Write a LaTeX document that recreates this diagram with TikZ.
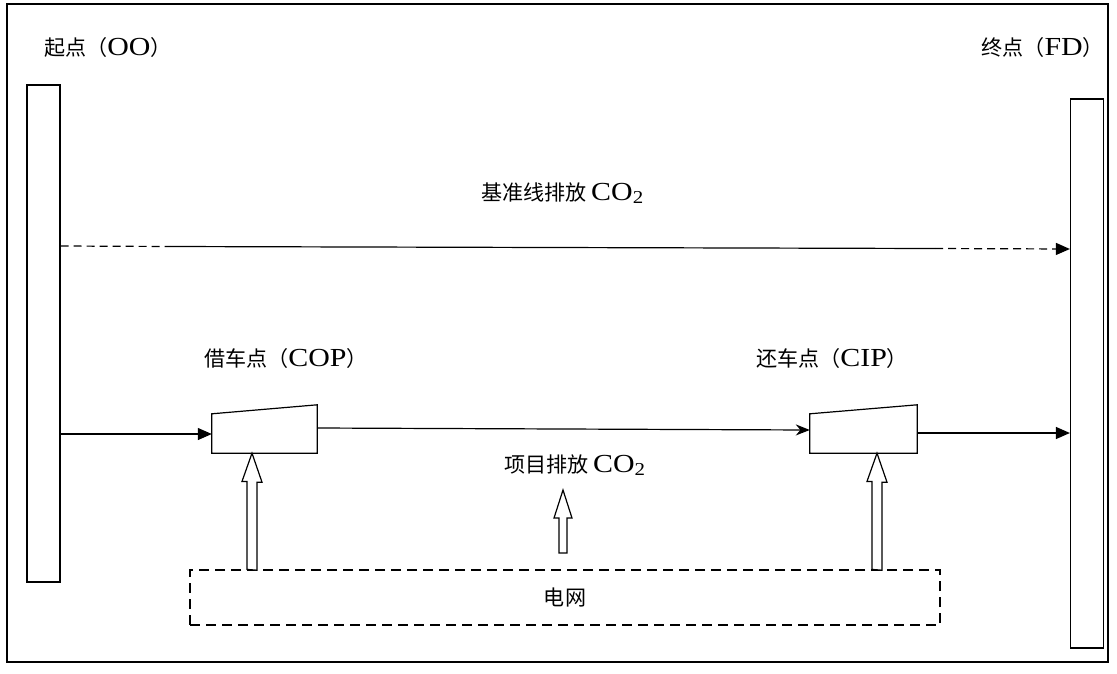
\documentclass[tikz,border=0pt]{standalone}
\usepackage{fontspec}
\setmainfont{Liberation Serif}[FakeStretch=1.15]
\newfontfamily\cjk{Noto Sans CJK SC}[Scale=0.81]
\usetikzlibrary{arrows.meta,calc}
\newcommand\zh[1]{{\cjk #1}}
\begin{document}
\begin{tikzpicture}[x=1pt,y=-1pt,
  every node/.style={font=\fontsize{26}{29}\selectfont, inner sep=0pt},
  bar/.style={draw, line width=1.2pt, minimum width=33pt, inner sep=0pt},
  conn/.style={line width=1.2pt},
  tip/.style={-{Triangle[length=14pt,width=12pt]}},
  dsh/.style={dash pattern=on 8pt off 5pt},
  hollow/.style={draw, line width=1.2pt, fill=white, line join=miter}]
\useasboundingbox (0,0) rectangle (1117,673);
\draw[line width=1.2pt] (7,4) rectangle (1108,662);
% bars
\node[bar, minimum height=497pt] (oo) at (43.5,333.5) {};
\node[bar, minimum height=549pt] (fd) at (1087,373.5) {};
\node[anchor=west] (oolbl) at (44,47) {\zh{起点（}OO\zh{）}};
\node[anchor=east] (fdlbl) at (1104,47) {\zh{终点（}FD\zh{）}};
% boxes
\node[minimum width=105pt, minimum height=48pt] (cop) at (264.5,429) {};
\node[minimum width=107pt, minimum height=48pt] (cip) at (863.5,429) {};
\draw[line width=1.2pt] (cop.south west) -- (cop.south east) -- (cop.north east) -- ($(cop.north west)+(0,9)$) -- cycle;
\draw[line width=1.2pt] (cip.south west) -- (cip.south east) -- (cip.north east) -- ($(cip.north west)+(0,9)$) -- cycle;
\node[anchor=west] (coplbl) at (204,358) {\zh{借车点（}COP\zh{）}};
\node[anchor=west] (ciplbl) at (756,358) {\zh{还车点（}CIP\zh{）}};
% grid
\node[draw, line width=1.2pt, dash pattern=on 10pt off 6pt, minimum width=750pt, minimum height=55pt] (grid) at (565,597.5) {};
\node (gridlbl) at (565,597) {\zh{电网}};
% baseline
\coordinate (b0) at (oo.east |- 0,246);
\coordinate (b1) at (170,246.5);
\coordinate (b2) at (935,248.5);
\coordinate (b3) at (fd.west |- 0,249);
\draw[conn,dsh] (b0) -- (b1);
\draw[conn] (b1) -- (b2);
\draw[conn,dsh,tip] (b2) -- (b3);
\node[anchor=west] (baselbl) at (481,193) {\zh{基准线排放 }CO\textsubscript{2}};
% project line
\draw[conn,tip] (oo.east |- 0,434) -- (cop.west |- 0,434);
\draw[conn,-{Stealth[length=14pt,width=11pt]}] (cop.east |- 0,428) -- (cip.west |- 0,430);
\draw[conn,tip] (cip.east |- 0,433) -- (fd.west |- 0,433);
\node[anchor=west] (projlbl) at (504,465) {\zh{项目排放 }CO\textsubscript{2}};
% hollow arrows
\coordinate (h1) at (252,0);
\draw[hollow] (h1 |- grid.north) ++(-5,0) -- ++(0,-88) -- ++(-5,0) -- (h1 |- cop.south) -- ++(10,29) -- ++(-5,0) -- ++(0,88) -- cycle;
\coordinate (h2) at (877,0);
\draw[hollow] (h2 |- grid.north) ++(-5,0) -- ++(0,-88) -- ++(-5,0) -- (h2 |- cip.south) -- ++(10,29) -- ++(-5,0) -- ++(0,88) -- cycle;
\coordinate (h3) at (563,490);
\draw[hollow] (h3) ++(-4,63) -- ++(0,-35) -- ++(-5,0) -- (h3) -- ++(9,28) -- ++(-5,0) -- ++(0,35) -- cycle;
\end{tikzpicture}
\end{document}
